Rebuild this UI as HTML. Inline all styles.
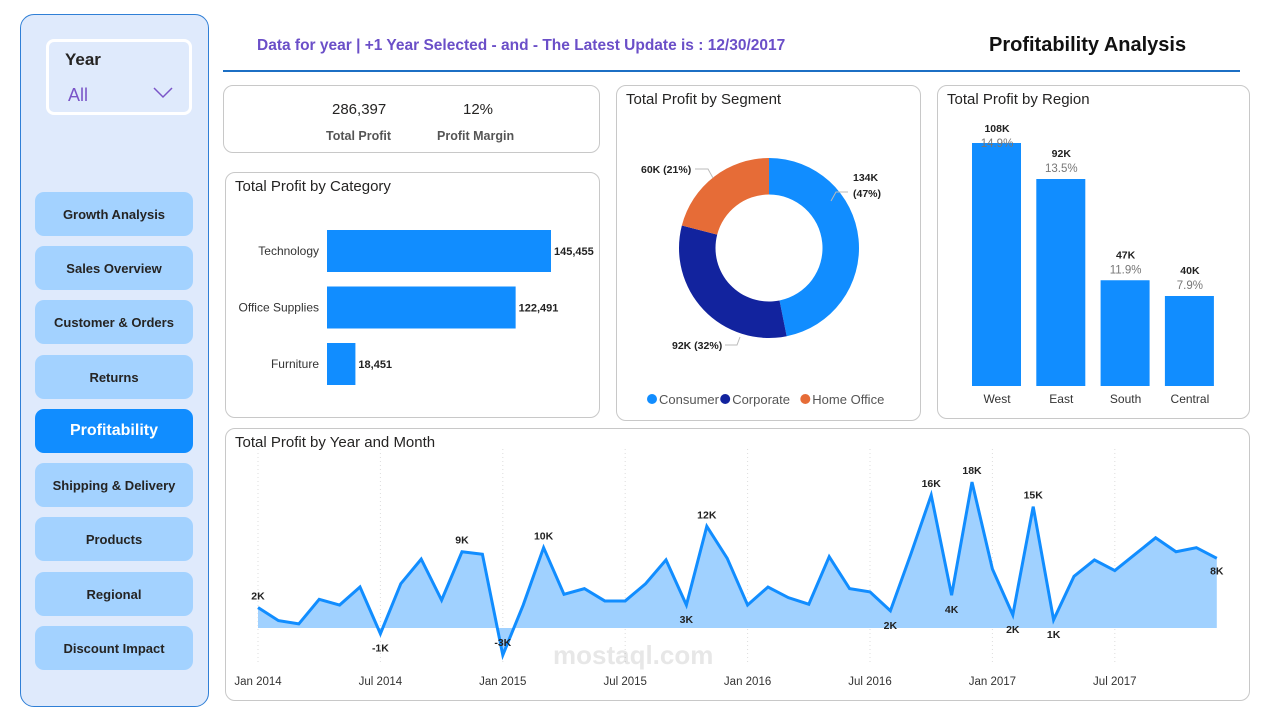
<!DOCTYPE html>
<html><head><meta charset="utf-8">
<style>
*{box-sizing:border-box;margin:0;padding:0}
body{width:1262px;height:720px;background:#fff;font-family:"Liberation Sans",sans-serif;position:relative;overflow:hidden;color:#252423}
.abs{position:absolute}
.card{position:absolute;border:1px solid #c8c8c8;border-radius:10px;background:#fff}
.ttl{position:absolute;left:9px;top:5px;font-size:15px;color:#252423}
.btn{position:absolute;left:35px;width:158px;height:44px;border-radius:9px;background:#a3d2ff;font-size:13px;font-weight:bold;color:#252423;display:flex;align-items:center;justify-content:center}
svg text{font-family:"Liberation Sans",sans-serif}
</style></head><body>
<div class="abs" style="left:20px;top:14px;width:189px;height:693px;background:#dfeafc;border:1.5px solid #2f7fd6;border-radius:14px"></div>
<div class="abs" style="left:46px;top:39px;width:146px;height:76px;border:3px solid #fff;border-radius:8px;background:#dfeafc">
<div style="position:absolute;left:16px;top:8px;font-size:17px;font-weight:bold">Year</div>
<div style="position:absolute;left:19px;top:43px;font-size:18px;color:#7a55c8">All</div>
<svg style="position:absolute;left:104px;top:45px" width="20" height="12"><polyline points="1,1 10,10 19,1" fill="none" stroke="#7a55c8" stroke-width="1.5"/></svg>
</div>
<div class="btn" style="top:192px">Growth Analysis</div>
<div class="btn" style="top:246px">Sales Overview</div>
<div class="btn" style="top:300px">Customer &amp; Orders</div>
<div class="btn" style="top:355px">Returns</div>
<div class="btn" style="top:409px;background:#118dff;color:#fff;font-size:16px">Profitability</div>
<div class="btn" style="top:463px">Shipping &amp; Delivery</div>
<div class="btn" style="top:517px">Products</div>
<div class="btn" style="top:572px">Regional</div>
<div class="btn" style="top:626px">Discount Impact</div>

<div class="abs" style="left:257px;top:37px;font-size:15.5px;font-weight:bold;color:#6b4fc8">Data for year | +1 Year Selected - and - The Latest Update is : 12/30/2017</div>
<div class="abs" style="left:989px;top:34px;font-size:20px;font-weight:bold;color:#111">Profitability Analysis</div>
<div class="abs" style="left:223px;top:70px;width:1017px;height:2px;background:#1c6fc4"></div>

<div class="card" style="left:223px;top:85px;width:377px;height:68px">
<div class="abs" style="left:108px;top:15px;font-size:15px">286,397</div>
<div class="abs" style="left:102px;top:43px;font-size:12.5px;font-weight:bold;color:#555">Total Profit</div>
<div class="abs" style="left:239px;top:15px;font-size:15px">12%</div>
<div class="abs" style="left:213px;top:43px;font-size:12.5px;font-weight:bold;color:#555">Profit Margin</div>
</div>

<div class="card" style="left:225px;top:172px;width:375px;height:246px">
<div class="ttl">Total Profit by Category</div>
<svg id="cat" class="abs" style="left:0;top:0" width="375" height="246"></svg>
</div>

<div class="card" style="left:616px;top:85px;width:305px;height:336px">
<div class="ttl">Total Profit by Segment</div>
<svg id="seg" class="abs" style="left:0;top:0" width="305" height="336"></svg>
</div>

<div class="card" style="left:937px;top:85px;width:313px;height:334px">
<div class="ttl">Total Profit by Region</div>
<svg id="reg" class="abs" style="left:0;top:0" width="313" height="334"></svg>
</div>

<div class="card" style="left:225px;top:428px;width:1025px;height:273px">
<div class="ttl">Total Profit by Year and Month</div>
<svg id="mon" class="abs" style="left:0;top:0" width="1025" height="273"></svg>
</div>

<div class="abs" style="left:553px;top:640px;font-size:26px;font-weight:bold;color:rgba(120,120,120,0.18)">mostaql.com</div>

<script>
const NS="http://www.w3.org/2000/svg";
function mk(p,t,a,txt){const e=document.createElementNS(NS,t);for(const k in a)e.setAttribute(k,a[k]);if(txt!==undefined)e.textContent=txt;p.appendChild(e);return e;}

// Category
const catNames=["Technology","Office Supplies","Furniture"];
const catValues=[145455,122491,18451];
const catLabels=["145,455","122,491","18,451"];
const cat=document.getElementById('cat');
const cx0=101, cScale=224/145455;
catValues.forEach((v,i)=>{
 const y=57+i*56.5;
 const r=mk(cat,'rect',{x:cx0,y:y,width:v*cScale,height:42,fill:'#118dff'});
 
 
 const t=mk(cat,'text',{x:cx0-8,y:y+25,'text-anchor':'end','font-size':12,fill:'#333'},catNames[i]);
 
 
 const l=mk(cat,'text',{x:cx0+v*cScale+3,y:y+25,'font-size':11,'font-weight':'bold',fill:'#222'},catLabels[i]);
 
 
});

// Segment donut
const segNames=["Consumer","Corporate","Home Office"];
const segValues=[134,92,60];
const segColors=["#118dff","#12239e","#e66c37"];
const seg=document.getElementById('seg');
const dcx=152,dcy=162,R=90,r0=53.5;
const tot=segValues.reduce((a,b)=>a+b,0);
let ang=-Math.PI/2;
segValues.forEach((v,i)=>{
 const a2=ang+v/tot*2*Math.PI, big=(a2-ang)>Math.PI?1:0;
 const p=[dcx+R*Math.cos(ang),dcy+R*Math.sin(ang),dcx+R*Math.cos(a2),dcy+R*Math.sin(a2),dcx+r0*Math.cos(a2),dcy+r0*Math.sin(a2),dcx+r0*Math.cos(ang),dcy+r0*Math.sin(ang)];
 const s=mk(seg,'path',{d:`M${p[0]},${p[1]}A${R},${R} 0 ${big} 1 ${p[2]},${p[3]}L${p[4]},${p[5]}A${r0},${r0} 0 ${big} 0 ${p[6]},${p[7]}Z`,fill:segColors[i]});
 
 
 ang=a2;
});
const sl=[["134K",236,95],["(47%)",236,111],["92K (32%)",55,263],["60K (21%)",24,87]];
sl.forEach(d=>{const t=mk(seg,'text',{x:d[1],y:d[2],'font-size':10.5,'font-weight':'bold',fill:'#222'},d[0]);
 
 });
mk(seg,'polyline',{points:"214,115 219,106 231,106",fill:'none',stroke:'#bbb'});
mk(seg,'polyline',{points:"108,259 120,259 123,251",fill:'none',stroke:'#bbb'});
mk(seg,'polyline',{points:"78,83 91,83 96,92",fill:'none',stroke:'#bbb'});
let lx=30;
segNames.forEach((n,i)=>{
 const c=mk(seg,'circle',{cx:lx+5,cy:313,r:5,fill:segColors[i]});
 
 
 const t=mk(seg,'text',{x:lx+12,y:318,'font-size':13,fill:'#555'},n);
 
 
 lx+=12+n.length*6.9+6;
});

// Region
const regNames=["West","East","South","Central"];
const regValues=[108,92,47,40];
const regLabels=["108K","92K","47K","40K"];
const regPct=["14.9%","13.5%","11.9%","7.9%"];
const reg=document.getElementById('reg');
const rBase=300, rScale=243/108;
regValues.forEach((v,i)=>{
 const x=34+i*64.3, h=v*rScale;
 const vy=Math.max(rBase-h-22,46);
 const b=mk(reg,'rect',{x:x,y:rBase-h,width:49,height:h,fill:'#118dff'});
 
 
 const t1=mk(reg,'text',{x:x+25,y:vy,'text-anchor':'middle','font-size':10.5,'font-weight':'bold',fill:'#222'},regLabels[i]);
 
 
 const t2=mk(reg,'text',{x:x+25,y:vy+15,'text-anchor':'middle','font-size':11.5,fill:'#777'},regPct[i]);
 
 
 const t3=mk(reg,'text',{x:x+25,y:rBase+17,'text-anchor':'middle','font-size':12,fill:'#333'},regNames[i]);
 
 
});

// Monthly
const monValues=[2.5,0.9,0.5,3.5,2.8,5.0,-0.7,5.4,8.4,3.4,9.3,9.0,
 -3.3,2.8,9.8,4.1,4.8,3.3,3.3,5.4,8.3,2.8,12.4,8.5,
 2.8,5.0,3.7,2.9,8.7,4.8,4.4,2.1,9.0,16.2,4.0,17.8,
 7.2,1.6,14.8,1.0,6.3,8.3,7.0,9.0,11.0,9.3,9.8,8.5];
const monTicks=["Jan 2014","Jul 2014","Jan 2015","Jul 2015","Jan 2016","Jul 2016","Jan 2017","Jul 2017"];
const monLabelIdx=[0,6,10,12,14,22,21,31,33,34,35,37,38,39,47];
const monLabelTxt=["2K","-1K","9K","-3K","10K","12K","3K","2K","16K","4K","18K","2K","15K","1K","8K"];
const mon=document.getElementById('mon');
const X=i=>32+i*20.4, Y=v=>199-v*8.2;
monTicks.forEach((t,i)=>{
 const x=X(i*6);
 mk(mon,'line',{x1:x,y1:20,x2:x,y2:235,stroke:'#ddd','stroke-dasharray':'1,3'});
 const e=mk(mon,'text',{x:x,y:256,'text-anchor':'middle','font-size':11.5,fill:'#333'},t);
 
 
});
let d=`M${X(0)},${Y(0)}`;monValues.forEach((v,i)=>d+=`L${X(i)},${Y(v)}`);d+=`L${X(monValues.length-1)},${Y(0)}Z`;
const area=mk(mon,'path',{d:d,fill:'#a0d1ff'});


const line=mk(mon,'polyline',{points:monValues.map((v,i)=>X(i)+','+Y(v)).join(' '),fill:'none',stroke:'#118dff','stroke-width':3,'stroke-linejoin':'miter'});


monLabelIdx.forEach((idx,k)=>{
 const v=monValues[idx];
 const prev=monValues[idx-1]??v, next=monValues[idx+1]??v;
 const peak=v>=prev&&v>=next&&idx!==0;
 let y;
 if(idx===0||peak) y=Y(v)-8;
 else if(v<0&&v<-2) y=Y(v)-9;
 else y=Y(v)+(idx===47?16:18);
 const t=mk(mon,'text',{x:X(idx),y:y,'text-anchor':'middle','font-size':10.5,'font-weight':'bold',fill:'#222'},monLabelTxt[k]);
 
 
});
</script>
</body></html>
